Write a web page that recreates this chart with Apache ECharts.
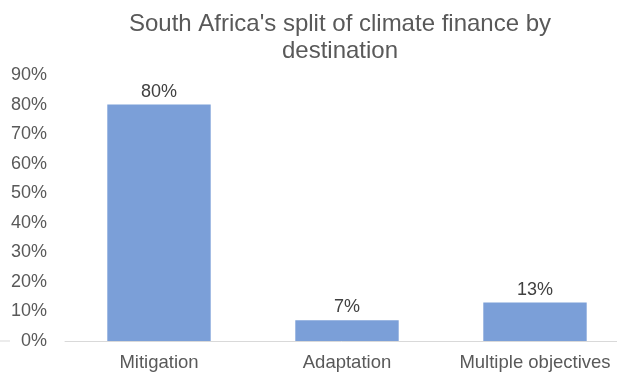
<!DOCTYPE html>
<html><head><meta charset="utf-8">
<script src="https://cdn.jsdelivr.net/npm/echarts@6/dist/echarts.min.js"></script>
<style>html,body{margin:0;padding:0;background:#fff}#c{width:617px;height:372px}</style>
</head><body><div id="c"></div>
<script>
const categories = ['Mitigation', 'Adaptation', 'Multiple objectives'];
const values = [80, 7, 13];
const yTicks = [0, 10, 20, 30, 40, 50, 60, 70, 80, 90];
const chart = echarts.init(document.getElementById('c'), null, {renderer: 'canvas'});
const font = '"Liberation Sans", Arial, sans-serif';
chart.setOption({
  animation: false,
  title: {
    text: "South Africa's split of climate finance by\ndestination",
    left: 335, top: 6, textAlign: 'center',
    textStyle: {fontFamily: font, fontSize: 24, fontWeight: 'normal', color: '#595959', lineHeight: 27}
  },
  grid: {left: 65, width: 564, top: 75, bottom: 31, containLabel: false, outerBoundsMode: 'none'},
  xAxis: {
    type: 'category', data: categories,
    axisLine: {lineStyle: {color: '#d9d9d9', width: 1}},
    axisTick: {show: false},
    axisLabel: {fontFamily: font, fontSize: 18.5, color: '#595959', margin: 12, interval: 0, hideOverlap: false}
  },
  yAxis: {
    type: 'value', min: yTicks[0], max: yTicks[yTicks.length - 1], interval: 10,
    axisLine: {show: false}, axisTick: {show: false}, splitLine: {show: false},
    axisLabel: {fontFamily: font, fontSize: 18, color: '#595959', formatter: v => v + '%', margin: 18}
  },
  graphic: [{type: 'line', shape: {x1: 0, y1: 341, x2: 10, y2: 341}, style: {stroke: '#d9d9d9', lineWidth: 1}}],
  series: [{
    type: 'bar', data: values, barWidth: '55%',
    itemStyle: {color: '#7b9fd8'},
    label: {show: true, position: 'top', formatter: p => p.value + '%', fontFamily: font, fontSize: 18, color: '#404040', distance: 4}
  }]
});
</script></body></html>
